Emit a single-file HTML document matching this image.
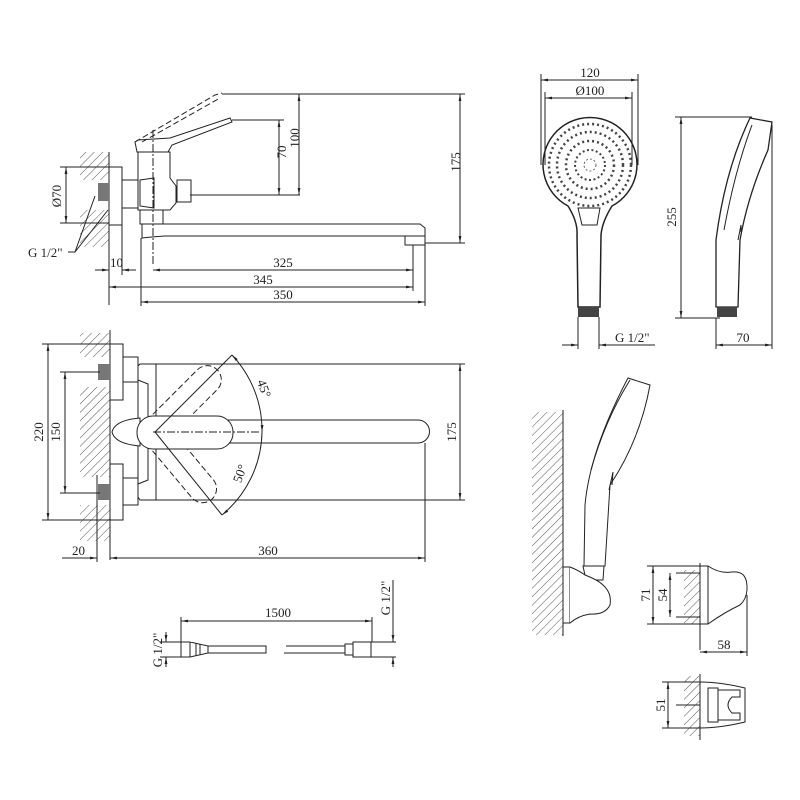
<!DOCTYPE html>
<html><head><meta charset="utf-8"><style>
html,body{margin:0;padding:0;background:#fff;}
svg{display:block;}
text{font-family:"Liberation Serif",serif;font-size:13px;fill:#222;}
</style></head><body>
<svg width="800" height="800" viewBox="0 0 800 800" xmlns="http://www.w3.org/2000/svg">
<defs>
<pattern id="h" width="6" height="6" patternUnits="userSpaceOnUse" patternTransform="rotate(45)">
<line x1="0" y1="0" x2="0" y2="6" stroke="#555" stroke-width="1"/>
</pattern>
<marker id="a" viewBox="0 0 10 10" refX="10" refY="5" markerWidth="7" markerHeight="7" orient="auto-start-reverse"><path d="M0,3 L10,5 L0,7 z" fill="#222"/></marker>
</defs>
<g fill="none" stroke="#222" stroke-width="1">
<!-- ============ TOP SIDE VIEW ============ -->
<rect x="80" y="152" width="29" height="28" fill="url(#h)" stroke="none"/>
<rect x="80" y="210" width="29" height="37" fill="url(#h)" stroke="none"/>
<line x1="109" y1="152" x2="109" y2="250"/>
<rect x="109" y="167" width="13" height="58" fill="#fff"/>
<rect x="98" y="183" width="11" height="18" fill="#777" stroke="none"/>
<rect x="122" y="180" width="17" height="28" fill="#fff"/>
<path d="M138,152 L170,152 L170,178 L176,186 L176,203 L170,210 L138,210 Z" fill="#fff"/>
<path d="M140,180 L154,178 L154,208 L140,206 Z"/>
<rect x="177" y="180" width="14" height="22" fill="#fff"/>
<path d="M135,142 L137,152 L168,152 L172,145 L232,122 L230,118 L170,138 L138,140 Z" fill="#fff"/>
<path d="M135,142 L215,95 L222,93 M142,142 L220,98" stroke-dasharray="6,3"/>
<rect x="140" y="210" width="23" height="14" fill="#fff"/>
<path d="M142,224 L420,224 L425,228 L425,236 L165,236 Q150,237 142,238 Z" fill="#fff"/>
<path d="M405,236 L405,245 L425,245 L425,236"/>
<line x1="153" y1="130" x2="153" y2="265" stroke-dasharray="8,2,2,2"/>
<!-- dims -->
<line x1="222" y1="94" x2="465" y2="94"/>
<line x1="460" y1="94" x2="460" y2="243" marker-start="url(#a)" marker-end="url(#a)"/>
<line x1="425" y1="243" x2="465" y2="243"/>
<line x1="299" y1="94" x2="299" y2="195" marker-start="url(#a)" marker-end="url(#a)"/>
<line x1="232" y1="120" x2="284" y2="120"/>
<line x1="279" y1="120" x2="279" y2="195" marker-start="url(#a)" marker-end="url(#a)"/>
<line x1="190" y1="195" x2="300" y2="195"/>
<line x1="60" y1="167" x2="109" y2="167"/><line x1="60" y1="223" x2="109" y2="223"/>
<line x1="66" y1="167" x2="66" y2="223" marker-start="url(#a)" marker-end="url(#a)"/>
<line x1="109" y1="245" x2="109" y2="305"/><line x1="122" y1="225" x2="122" y2="275"/>
<line x1="141" y1="238" x2="141" y2="306"/><line x1="413" y1="245" x2="413" y2="291"/>
<line x1="425" y1="245" x2="425" y2="306"/>
<line x1="95" y1="270" x2="109" y2="270" marker-end="url(#a)"/>
<line x1="136" y1="270" x2="122" y2="270" marker-end="url(#a)"/>
<line x1="153" y1="270" x2="413" y2="270" marker-start="url(#a)" marker-end="url(#a)"/>
<line x1="109" y1="287" x2="413" y2="287" marker-start="url(#a)" marker-end="url(#a)"/>
<line x1="141" y1="302" x2="425" y2="302" marker-start="url(#a)" marker-end="url(#a)"/>
<path d="M68,252 L75,252 L95,196 M75,252 L108,210"/>
<!-- ============ FRONT VIEW ============ -->
<rect x="80" y="333" width="30" height="24" fill="url(#h)" stroke="none"/>
<rect x="80" y="387" width="30" height="90" fill="url(#h)" stroke="none"/>
<rect x="80" y="505" width="30" height="36" fill="url(#h)" stroke="none"/>
<line x1="110" y1="330" x2="110" y2="560"/>
<rect x="110" y="344" width="13" height="56" fill="#fff"/>
<rect x="110" y="464" width="13" height="56" fill="#fff"/>
<rect x="98" y="364" width="12" height="16" fill="#777" stroke="none"/>
<rect x="98" y="484" width="12" height="16" fill="#777" stroke="none"/>
<rect x="123" y="357" width="15" height="25" fill="#fff"/>
<rect x="123" y="478" width="15" height="27" fill="#fff"/>
<path d="M138,366 L140,364 L156,364 L156,500 L140,500 L138,497 Z" fill="#fff"/>
<path d="M138,380 L148,384 L148,480 L138,484"/>
<g stroke-dasharray="6,3">
<rect x="-12" y="-14" width="100" height="28" rx="14" transform="translate(155,432) rotate(-45)"/>
<rect x="-12" y="-14" width="100" height="28" rx="14" transform="translate(155,432) rotate(50)"/>
</g>
<path d="M112,432 Q115,420 140,418 L140,446 Q115,444 112,432 Z" fill="#fff"/>
<path d="M225,420 L418,420 A11,11 0 0 1 418,443 L225,443" fill="#fff"/>
<rect x="137" y="416" width="96" height="33" rx="16" fill="#fff"/>
<line x1="153" y1="432" x2="260" y2="432" stroke-dasharray="8,2,2,2"/>
<line x1="155" y1="432" x2="232" y2="355"/><line x1="155" y1="432" x2="222" y2="515"/>
<path d="M232,355 A110,110 0 0 1 262,432" marker-start="url(#a)" marker-end="url(#a)"/>
<path d="M262,432 A110,110 0 0 1 222,515" marker-end="url(#a)"/>
<line x1="42" y1="344" x2="110" y2="344"/><line x1="42" y1="520" x2="110" y2="520"/>
<line x1="48" y1="344" x2="48" y2="520" marker-start="url(#a)" marker-end="url(#a)"/>
<line x1="60" y1="372" x2="100" y2="372"/><line x1="60" y1="493" x2="100" y2="493"/>
<line x1="65" y1="372" x2="65" y2="493" marker-start="url(#a)" marker-end="url(#a)"/>
<line x1="156" y1="364" x2="465" y2="364"/><line x1="156" y1="500" x2="465" y2="500"/>
<line x1="460" y1="364" x2="460" y2="500" marker-start="url(#a)" marker-end="url(#a)"/>
<line x1="97" y1="475" x2="97" y2="562"/><line x1="425" y1="443" x2="425" y2="562"/>
<line x1="62" y1="558" x2="97" y2="558" marker-end="url(#a)"/>
<line x1="110" y1="558" x2="425" y2="558" marker-start="url(#a)" marker-end="url(#a)"/>
<!-- ============ HOSE ============ -->
<path d="M181,642 L181,657 L190,657 L190,642 Z M190,642 L208,646 L208,653 L190,657"/>
<line x1="196" y1="643" x2="196" y2="656"/><line x1="200" y1="644" x2="200" y2="655"/>
<path d="M208,646 L266,646 L266,653 L208,653"/>
<path d="M286,646 L345,646 L345,653 L284,653"/>
<rect x="345" y="644" width="8" height="11"/>
<rect x="353" y="642" width="18" height="15"/>
<line x1="181" y1="617" x2="181" y2="642"/><line x1="372" y1="617" x2="372" y2="642"/>
<line x1="181" y1="621" x2="372" y2="621" marker-start="url(#a)" marker-end="url(#a)"/>
<line x1="160" y1="642" x2="181" y2="642"/><line x1="160" y1="657" x2="181" y2="657"/>
<line x1="166" y1="632" x2="166" y2="642" marker-end="url(#a)"/><line x1="166" y1="667" x2="166" y2="657" marker-end="url(#a)"/>
<line x1="371" y1="642" x2="396" y2="642"/><line x1="371" y1="657" x2="396" y2="657"/>
<line x1="393" y1="580" x2="393" y2="642" marker-end="url(#a)"/><line x1="393" y1="667" x2="393" y2="657" marker-end="url(#a)"/>
<!-- ============ HAND SHOWER FRONT ============ -->
<path d="M568,206 A47,47 0 1 1 612,206 Q602,222 601,235 L600,307 L578,307 L577,235 Q578,222 568,206 Z" fill="#fff" stroke-width="1.5"/>
<path d="M578,208 L600,208 L597,225 L582,225 Z"/>
<rect x="578" y="307" width="21" height="10" fill="#444" stroke="none"/>
<g fill="none" stroke="#444" stroke-width="0.8">
<circle cx="590" cy="165" r="6" stroke-dasharray="2,2"/>
<circle cx="590" cy="165" r="15" stroke-dasharray="2,2.5" stroke-width="2"/>
<circle cx="590" cy="165" r="24" stroke-dasharray="2,3" stroke-width="2.5"/>
<circle cx="590" cy="165" r="33" stroke-dasharray="2,3" stroke-width="2.5"/>
<circle cx="590" cy="165" r="41" stroke-dasharray="2,3" stroke-width="2.5"/>
</g>
<line x1="541" y1="74" x2="541" y2="165"/><line x1="638" y1="74" x2="638" y2="165"/>
<line x1="541" y1="80" x2="638" y2="80" marker-start="url(#a)" marker-end="url(#a)"/>
<line x1="545" y1="92" x2="545" y2="165"/><line x1="632" y1="92" x2="632" y2="165"/>
<line x1="545" y1="98" x2="632" y2="98" marker-start="url(#a)" marker-end="url(#a)"/>
<line x1="578" y1="317" x2="578" y2="349"/><line x1="599" y1="317" x2="599" y2="349"/>
<line x1="562" y1="345" x2="578" y2="345" marker-end="url(#a)"/>
<line x1="655" y1="345" x2="599" y2="345" marker-end="url(#a)"/>
<!-- side -->
<path d="M716,307 L716,240 Q725,170 750,118 L772,122 L768,150 Q748,195 740,240 L738,307 Z" fill="#fff" stroke-width="1.3"/>
<path d="M724,230 Q735,170 752,125"/>
<path d="M738,240 L741,225 L741,232"/>
<rect x="717" y="307" width="20" height="10" fill="#444" stroke="none"/>
<line x1="675" y1="117" x2="752" y2="117"/><line x1="675" y1="318" x2="720" y2="318"/>
<line x1="681" y1="117" x2="681" y2="318" marker-start="url(#a)" marker-end="url(#a)"/>
<line x1="716" y1="318" x2="716" y2="349"/><line x1="772" y1="125" x2="772" y2="349"/>
<line x1="716" y1="345" x2="772" y2="345" marker-start="url(#a)" marker-end="url(#a)"/>
<!-- ============ WALL MOUNT ============ -->
<rect x="532" y="412" width="31" height="223" fill="url(#h)" stroke="none"/>
<line x1="563" y1="410" x2="563" y2="636"/>
<path d="M584,566 L585,505 Q590,450 628,378 L650,385 Q640,440 610,485 L605,566 Z" fill="#fff"/>
<path d="M591,470 Q605,420 630,380"/><path d="M609,490 L613,472 L612,485"/>
<path d="M583,566 L604,566 L603,580 L586,580 Z"/>
<path d="M563,567 L570,567 L570,623 L563,623"/>
<path d="M570,567 Q578,570 585,575 Q598,580 603,585 Q612,593 610,605 Q605,615 590,614 Q578,616 570,623" fill="#fff"/>
<!-- holder detail -->
<rect x="684" y="570" width="16" height="54" fill="url(#h)" stroke="none"/>
<line x1="700" y1="563" x2="700" y2="650"/>
<rect x="700" y="566" width="8" height="58" fill="#fff"/>
<path d="M708,566 Q720,574 732,572 Q748,570 747,590 Q746,600 740,605 Q725,612 708,624"/>
<line x1="676" y1="573" x2="700" y2="573"/><line x1="676" y1="617" x2="700" y2="617"/>
<line x1="647" y1="566" x2="700" y2="566"/><line x1="647" y1="624" x2="700" y2="624"/>
<line x1="653" y1="566" x2="653" y2="624" marker-start="url(#a)" marker-end="url(#a)"/>
<line x1="670" y1="573" x2="670" y2="617" marker-start="url(#a)" marker-end="url(#a)"/>
<line x1="747" y1="595" x2="747" y2="656"/>
<line x1="700" y1="652" x2="747" y2="652" marker-start="url(#a)" marker-end="url(#a)"/>
<!-- clip -->
<rect x="684" y="676" width="16" height="60" fill="url(#h)" stroke="none"/>
<line x1="700" y1="674" x2="700" y2="740"/>
<path d="M700,682 Q720,682 745,688 L745,722 Q720,728 700,728"/>
<rect x="708" y="688" width="10" height="34"/>
<path d="M718,690 L740,690 L740,697 L732,697 Q724,705 732,713 L740,713 L740,720 L718,720"/>
<line x1="676" y1="705" x2="700" y2="705"/>
<line x1="662" y1="682" x2="700" y2="682"/><line x1="662" y1="728" x2="700" y2="728"/>
<line x1="668" y1="682" x2="668" y2="728" marker-start="url(#a)" marker-end="url(#a)"/>
</g>
<!-- TEXT -->
<g>
<text x="285" y="165" transform="rotate(-90 279 158)" text-anchor="middle">70</text>
<text x="306" y="145" transform="rotate(-90 299 145)" text-anchor="middle">100</text>
<text x="466" y="168" transform="rotate(-90 460 168)" text-anchor="middle">175</text>
<text x="61" y="196" transform="rotate(-90 61 196)" text-anchor="middle">Ø70</text>
<text x="28" y="257">G 1/2"</text>
<text x="110" y="267">10</text>
<text x="283" y="267" text-anchor="middle">325</text>
<text x="263" y="284" text-anchor="middle">345</text>
<text x="283" y="299" text-anchor="middle">350</text>
<text x="43" y="432" transform="rotate(-90 43 432)" text-anchor="middle">220</text>
<text x="60" y="432" transform="rotate(-90 60 432)" text-anchor="middle">150</text>
<text x="456" y="432" transform="rotate(-90 456 432)" text-anchor="middle">175</text>
<text x="260" y="390" transform="rotate(70 260 390)" text-anchor="middle">45°</text>
<text x="244" y="475" transform="rotate(-70 244 475)" text-anchor="middle">50°</text>
<text x="72" y="555">20</text>
<text x="268" y="555" text-anchor="middle">360</text>
<text x="278" y="617" text-anchor="middle">1500</text>
<text x="162" y="650" transform="rotate(-90 162 650)" text-anchor="middle">G 1/2"</text>
<text x="390" y="598" transform="rotate(-90 390 598)" text-anchor="middle">G 1/2"</text>
<text x="590" y="77" text-anchor="middle">120</text>
<text x="590" y="95" text-anchor="middle">Ø100</text>
<text x="615" y="342">G 1/2"</text>
<text x="676" y="217" transform="rotate(-90 676 217)" text-anchor="middle">255</text>
<text x="743" y="342" text-anchor="middle">70</text>
<text x="650" y="595" transform="rotate(-90 650 595)" text-anchor="middle">71</text>
<text x="667" y="595" transform="rotate(-90 667 595)" text-anchor="middle">54</text>
<text x="724" y="649" text-anchor="middle">58</text>
<text x="665" y="705" transform="rotate(-90 665 705)" text-anchor="middle">51</text>
</g>
</svg>
</body></html>
